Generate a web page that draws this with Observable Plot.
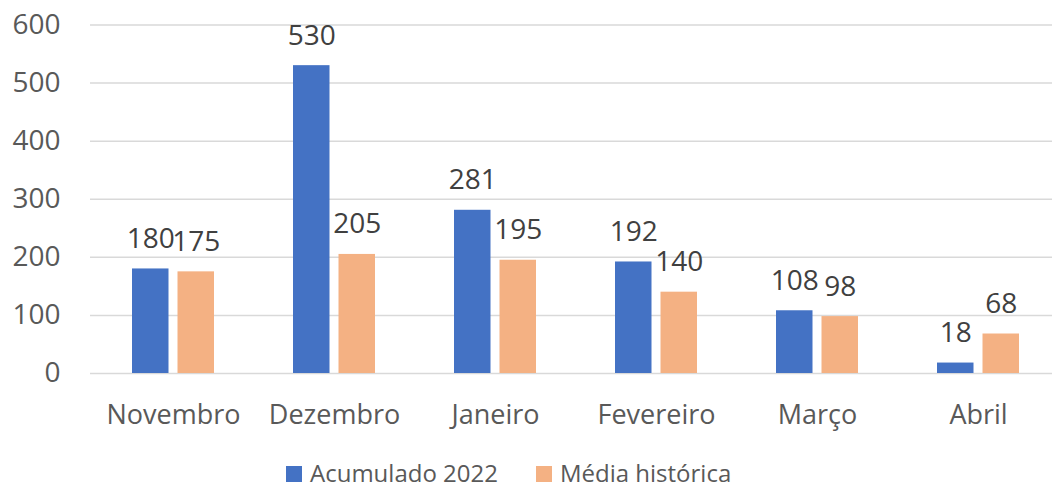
<!DOCTYPE html>
<html>
<head>
<meta charset="utf-8">
<script src="https://cdn.jsdelivr.net/npm/d3@7"></script>
<script src="https://cdn.jsdelivr.net/npm/@observablehq/plot@0.6"></script>
<style>
  html, body { margin: 0; padding: 0; background: #fff; }
  #wrap { position: relative; width: 1052px; height: 489px; font-family: "Open Sans", sans-serif; }
  #legend { position: absolute; left: 286px; top: 456px; display: flex; align-items: center; font-size: 24px; line-height: normal; color: #595959; white-space: nowrap; }
  .item { display: flex; align-items: center; margin-right: 38px; }
  .sw { width: 16px; height: 16px; margin-right: 8px; flex: none; position: relative; top: 1px; }
</style>
</head>
<body>
<div id="wrap">
  <div id="chart"></div>
  <div id="legend"></div>
</div>
<script>
const months = ["Novembro", "Dezembro", "Janeiro", "Fevereiro", "Março", "Abril"];
const acumulado2022 = [180, 530, 281, 192, 108, 18];
const mediaHistorica = [175, 205, 195, 140, 98, 68];
const seriesNames = ["Acumulado 2022", "Média histórica"];
const seriesColors = ["#4472C4", "#F4B183"];
const yTicks = [0, 100, 200, 300, 400, 500, 600];

const blue = months.map((m, i) => ({month: m, value: acumulado2022[i]}));
const orange = months.map((m, i) => ({month: m, value: mediaHistorica[i]}));

const bandInset = 45.5;
const half = 22.75;

const chart = Plot.plot({
  width: 1052,
  height: 440,
  marginLeft: 90,
  marginRight: 0,
  marginTop: 24.5,
  marginBottom: 67,
  style: {fontFamily: "'Open Sans', sans-serif", color: "#595959", background: "transparent"},
  x: {domain: months, range: [90, 1060], paddingInner: 0.493, paddingOuter: 0.2465, label: null},
  y: {domain: [0, 600], label: null},
  marks: [
    Plot.ruleY(yTicks, {stroke: "#D9D9D9", strokeWidth: 1.5}),
    Plot.axisY({ticks: yTicks, tickSize: 0, tickPadding: 30, fontSize: 28, label: null, fill: "#595959"}),
    Plot.axisX({tickSize: 0, tickPadding: 31, fontSize: 27, label: null, fill: "#595959"}),
    Plot.barY(blue, {x: "month", y: "value", fill: seriesColors[0], insetRight: bandInset}),
    Plot.barY(orange, {x: "month", y: "value", fill: seriesColors[1], insetLeft: bandInset}),
    Plot.text(blue, {x: "month", y: "value", text: d => String(d.value), dx: -half, dy: -21, lineAnchor: "bottom", fontSize: 28, fill: "#404040"}),
    Plot.text(orange, {x: "month", y: "value", text: d => String(d.value), dx: half, dy: -21, lineAnchor: "bottom", fontSize: 28, fill: "#404040"})
  ]
});
document.getElementById("chart").appendChild(chart);

const legend = document.getElementById("legend");
seriesNames.forEach((name, i) => {
  const it = document.createElement("div");
  it.className = "item";
  const sw = document.createElement("div");
  sw.className = "sw";
  sw.style.background = seriesColors[i];
  const t = document.createElement("span");
  t.textContent = name;
  it.appendChild(sw);
  it.appendChild(t);
  legend.appendChild(it);
});
</script>
</body>
</html>
